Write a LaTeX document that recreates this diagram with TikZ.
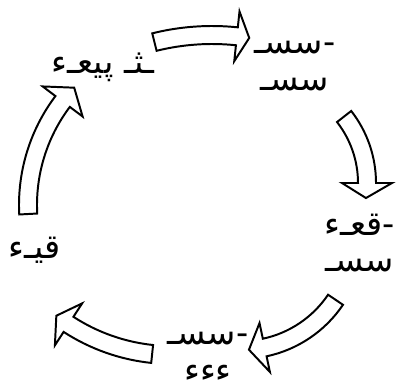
\documentclass[tikz,border=0pt]{standalone}
\usepackage{fontspec}
\newfontfamily\arabicfont[Script=Arabic]{DejaVu Sans}
\TeXXeTstate=1

% curved block arrow: centre, radius, start angle, head base angle, tip angle
\newcommand{\curvedarrow}[5]{%
  \begin{scope}[shift={#1}]
    \draw[blockarrow] (#3:{#2+9}) arc[start angle=#3, end angle=#4, radius={#2+9}]
      -- (#4:{#2+25}) -- (#5:#2) -- (#4:{#2-25}) -- (#4:{#2-9})
      arc[start angle=#4, end angle=#3, radius={#2-9}] -- cycle;
  \end{scope}}

\begin{document}
\begin{tikzpicture}[x=0.025cm, y=0.025cm,
  blockarrow/.style={draw=black, fill=white, line width=1.4pt, line join=miter},
  steptext/.style={align=center, font=\arabicfont\fontsize{24}{26}\selectfont, inner sep=0pt}]

  \useasboundingbox (0,0) rectangle (398,390);

  % Nodes
  \node (lead) [steptext] at (103,323) {\beginR ـثـ پيعـء\endR};
  \node (plan) [steptext] at (295,324) {\beginR -سسـ\endR\\ \beginR سسـ\endR};
  \node (work) [steptext] at (360,147) {\beginR -قعـء\endR\\ \beginR سسـ\endR};
  \node (test) [steptext] at (208,33) {\beginR -سسـ\endR\\ \beginR ءءء\endR};
  \node (back) [steptext] at (35,140) {\beginR قيـء\endR};

  % Arrows
  \curvedarrow{(212,117)}{238}{104}{84}{81}
  \curvedarrow{(259,207)}{108}{38}{0}{-8}
  \curvedarrow{(241,154)}{114}{-34}{-78}{-86}
  \curvedarrow{(172,225)}{190}{-96}{-123}{-127.5}
  \curvedarrow{(200,185)}{172}{183}{143}{137}

\end{tikzpicture}
\end{document}
